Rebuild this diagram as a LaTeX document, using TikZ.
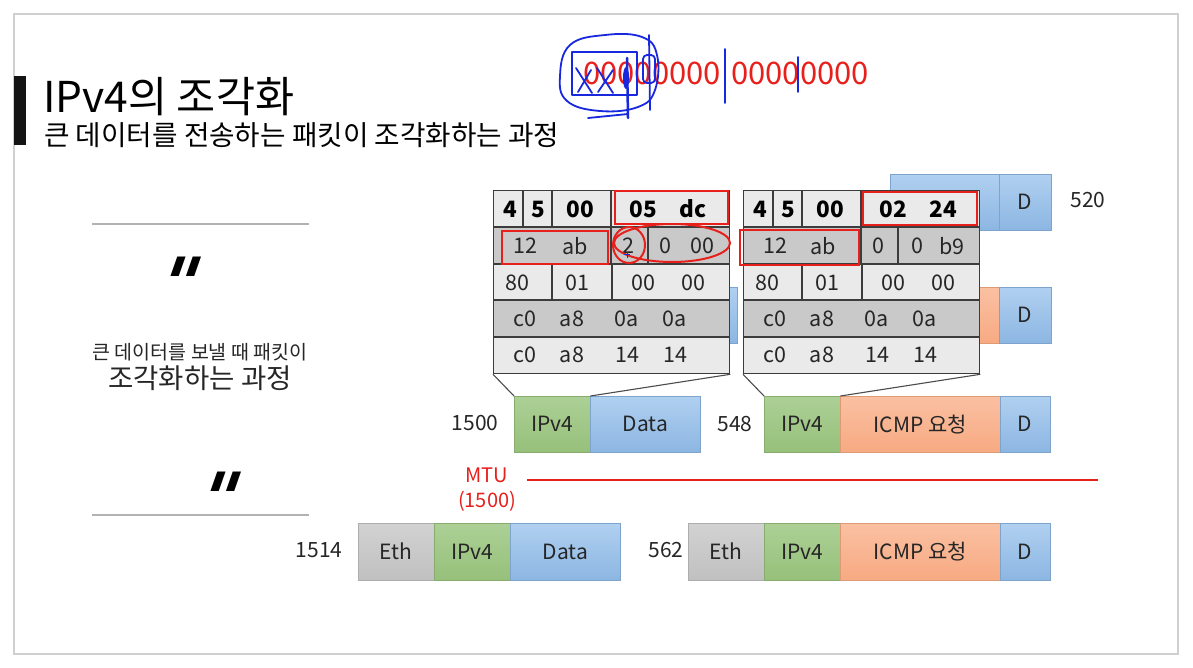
\documentclass[tikz,border=0pt]{standalone}
\usepackage{fontspec}
\setmainfont{Noto Sans CJK KR}
\newfontfamily\qfont{DejaVu Sans}[FakeSlant=0.35]
\definecolor{gtop}{RGB}{172,208,150}
\definecolor{gbot}{RGB}{150,192,122}
\definecolor{btop}{RGB}{176,208,240}
\definecolor{bbot}{RGB}{140,182,226}
\definecolor{otop}{RGB}{250,192,162}
\definecolor{obot}{RGB}{247,170,130}
\definecolor{etop}{RGB}{210,210,210}
\definecolor{ebot}{RGB}{192,192,192}
\definecolor{tlight}{RGB}{234,234,234}
\definecolor{tdark}{RGB}{201,201,201}
\definecolor{tborder}{RGB}{60,60,60}
\definecolor{penred}{RGB}{232,32,28}
\definecolor{penblue}{RGB}{24,40,222}
\definecolor{framegray}{RGB}{208,208,208}
\tikzset{
  pkt/.style={anchor=north west, inner sep=0pt, minimum height=56pt,
    font=\fontsize{21}{21}\selectfont, text=black!85},
  gbox/.style={pkt, top color=gtop, bottom color=gbot, draw=gbot!90!black, line width=0.4pt},
  bbox/.style={pkt, top color=btop, bottom color=bbot, draw=bbot!90!black, line width=0.4pt},
  obox/.style={pkt, top color=otop, bottom color=obot, draw=obot!90!black, line width=0.4pt},
  ebox/.style={pkt, top color=etop, bottom color=ebot, draw=ebot!90!black, line width=0.4pt},
  num/.style={inner sep=0pt, font=\fontsize{21}{21}\selectfont, text=black!85},
  tt/.style={inner sep=0pt, font=\fontsize{21.5}{21.5}\selectfont, text=black!85},
  tb/.style={inner sep=0pt, font=\fontsize{22.5}{22.5}\selectfont\bfseries, text=black},
  tline/.style={draw=tborder, line width=1.1pt},
  tbl/.style={draw=tborder, line width=1.3pt, anchor=north west, inner sep=0pt,
    minimum width=236pt, minimum height=183pt},
  callout/.style={draw=black!70, line width=1.1pt},
  redpen/.style={draw=penred, line width=2pt},
  bluepen/.style={draw=penblue, line width=1.8pt, line cap=round, line join=round},
  quote/.style={anchor=base, inner sep=0pt, font=\qfont\bfseries\fontsize{72}{72}\selectfont},
}
\newcommand\tablebody[1]{%
  \begin{scope}[xshift=#1pt]
    \fill[tlight] (493,190) rectangle (729,227);
    \fill[tdark]  (493,227) rectangle (729,264);
    \fill[tlight] (493,264) rectangle (729,300);
    \fill[tdark]  (493,300) rectangle (729,337);
    \fill[tlight] (493,337) rectangle (729,373);
    \draw[tline] (493,227) -- (729,227) (493,264) -- (729,264)
                 (493,300) -- (729,300) (493,337) -- (729,337);
    \draw[tline] (523,190) -- (523,227) (552,190) -- (552,227) (611,190) -- (611,227);
    \draw[tline] (611,227) -- (611,264) (648,227) -- (648,264);
    \draw[tline] (552,264) -- (552,300) (612,264) -- (612,300);
  \end{scope}}
\begin{document}
\begin{tikzpicture}[x=1pt, y=-1pt]
\useasboundingbox (0,0) rectangle (1193,668);
\fill[white] (0,0) rectangle (1193,668);
\draw[framegray, line width=2pt] (14,14) rectangle (1178,654);

% title
\fill[black!92] (14,76) rectangle (26,145);
\node[anchor=base west, inner sep=0pt, font=\fontsize{42.5}{42.5}\selectfont] (title) at (43,113) {IPv4의 조각화};
\node[anchor=base west, inner sep=0pt, font=\fontsize{27.7}{27.7}\selectfont] (subtitle) at (44,146) {큰 데이터를 전송하는 패킷이 조각화하는 과정};

% left panel
\draw[black!30, line width=1.2pt] (92,224) -- (309,224);
\draw[black!30, line width=1.2pt] (92,515) -- (309,515);
\node[quote] (q1) at (171,309) {"};
\node[quote] (q2) at (211,524) {"};
\node[inner sep=0pt, font=\fontsize{19.5}{19.5}\selectfont, text=black!85] (lt1) at (200,352) {큰 데이터를 보낼 때 패킷이};
\node[inner sep=0pt, font=\fontsize{27.5}{27.5}\selectfont, text=black!85] (lt2) at (200,378) {조각화하는 과정};

% hand-written red bits at top
\node[inner sep=0pt, font=\fontsize{31}{31}\selectfont, text=penred] (bits1) at (652,73) {00000000};
\node[inner sep=0pt, font=\fontsize{31}{31}\selectfont, text=penred] (bits2) at (800,73) {00000000};
% blue pen scribbles
\draw[bluepen] (572,52) rectangle (637,95);
\draw[bluepen] (576,68) -- (592,93) (591,70) -- (578,92);
\draw[bluepen] (597,68) -- (613,93) (613,70) -- (598,92);
\draw[bluepen] plot[smooth cycle, tension=0.7] coordinates
  {(560,76) (570,45) (605,35) (642,37) (657,55) (655,90) (638,107) (600,111) (567,101)};
\draw[bluepen] (588,118) -- (628,114);
\draw[bluepen, line width=2.5pt] (627,58) -- (628,118);
\fill[penblue] (626,78) ellipse [x radius=3, y radius=11];
\draw[bluepen] (649,35) -- (650,110);
\draw[bluepen, rounded corners=4pt] (643,55) rectangle (655,83);
\draw[bluepen] (725,49) -- (725,103);
\draw[bluepen] (798,57) -- (798,92);

% packets hidden behind the headers
\node[bbox, minimum width=109pt] (b5) at (890,174) {};
\node[bbox, minimum width=52pt] (d5) at (999,174) {D};
\node[num] (n520) at (1088,200) {520};
\node[bbox, minimum width=137pt] (b6) at (600,287) {};
\node[obox, minimum width=159pt] (o6) at (840,287) {};
\node[bbox, minimum width=52pt] (d6) at (999,287) {D};

% IPv4 packets
\node[num] (n1500) at (475,423) {1500};
\node[gbox, minimum width=76pt] (ip1) at (514,396) {IPv4};
\node[bbox, minimum width=110pt] (da1) at (590,396) {Data};
\node[num] (n548) at (735,424) {548};
\node[gbox, minimum width=76pt] (ip2) at (764,396) {IPv4};
\node[obox, minimum width=160pt] (ic2) at (840,396) {ICMP 요청};
\node[bbox, minimum width=50pt] (d2) at (1000,396) {D};

% MTU
\node[inner sep=0pt, font=\fontsize{20}{20}\selectfont, text=penred] (mtu) at (487,475) {MTU};
\node[inner sep=0pt, font=\fontsize{20}{20}\selectfont, text=penred] (mtuv) at (487,501) {(1500)};
\coordinate (m1) at (527,480);
\coordinate (m2) at (1098,480);
\draw[penred, line width=2.2pt] (m1) -- (m2);

% Ethernet frames
\node[num] (n1514) at (319,550) {1514};
\node[ebox, minimum width=76pt, minimum height=57pt] (eth3) at (358,523) {Eth};
\node[gbox, minimum width=76pt, minimum height=57pt] (ip3) at (434,523) {IPv4};
\node[bbox, minimum width=110pt, minimum height=57pt] (da3) at (510,523) {Data};
\node[num] (n562) at (666,550) {562};
\node[ebox, minimum width=76pt, minimum height=57pt] (eth4) at (688,523) {Eth};
\node[gbox, minimum width=76pt, minimum height=57pt] (ip4) at (764,523) {IPv4};
\node[obox, minimum width=160pt, minimum height=57pt] (ic4) at (840,523) {ICMP 요청};
\node[bbox, minimum width=50pt, minimum height=57pt] (d4) at (1000,523) {D};

% header tables
\tablebody{0}
\tablebody{250}
\node[tbl] (t1) at (493,190) {};
\node[tbl] (t2) at (743,190) {};
\draw[callout] (t1.south west) -- (ip1.north west);
\draw[callout] (t1.south east) -- (ip1.north east);
\draw[callout] (t2.south west) -- (ip2.north west);
\draw[callout] (t2.south east) -- (ip2.north east);

% table 1 text
\node[tb] at (510,209) {4};
\node[tb] at (538,209) {5};
\node[tb] at (580,209) {00};
\node[tb] at (643,209) {05};
\node[tb] at (693,209) {dc};
\node[tt] at (525,246) {12};
\node[tt] at (575,246) {ab};
\node[tt] at (628,246) {2};
\node[tt] at (665,246) {0};
\node[tt] at (702,246) {00};
\node[tt] at (517,283) {80};
\node[tt] at (577,283) {01};
\node[tt] at (643,283) {00};
\node[tt] at (693,283) {00};
\node[tt] at (525,319) {c0};
\node[tt] at (572,319) {a8};
\node[tt] at (627,319) {0a};
\node[tt] at (675,319) {0a};
\node[tt] at (525,355) {c0};
\node[tt] at (572,355) {a8};
\node[tt] at (627,355) {14};
\node[tt] at (675,355) {14};
% table 2 text
\node[tb] at (760,209) {4};
\node[tb] at (788,209) {5};
\node[tb] at (830,209) {00};
\node[tb] at (893,209) {02};
\node[tb] at (943,209) {24};
\node[tt] at (775,246) {12};
\node[tt] at (823,246) {ab};
\node[tt] at (878,246) {0};
\node[tt] at (917,246) {0};
\node[tt] at (952,246) {b9};
\node[tt] at (767,283) {80};
\node[tt] at (827,283) {01};
\node[tt] at (893,283) {00};
\node[tt] at (943,283) {00};
\node[tt] at (775,319) {c0};
\node[tt] at (822,319) {a8};
\node[tt] at (877,319) {0a};
\node[tt] at (925,319) {0a};
\node[tt] at (775,355) {c0};
\node[tt] at (822,355) {a8};
\node[tt] at (877,355) {14};
\node[tt] at (925,355) {14};

% red pen annotations
\draw[redpen] (615,191) rectangle (728,224);
\draw[redpen] (502,231) rectangle (608,264);
\draw[redpen] (629,245) ellipse [x radius=16, y radius=18];
\draw[redpen] (672,243) ellipse [x radius=58, y radius=19];
\draw[penblue, line width=1pt] (624,255) -- (630,255) (627,252) -- (627,258);
\draw[redpen] (863,192) rectangle (977,225);
\draw[redpen] (740,230) rectangle (859,265);
\end{tikzpicture}
\end{document}
